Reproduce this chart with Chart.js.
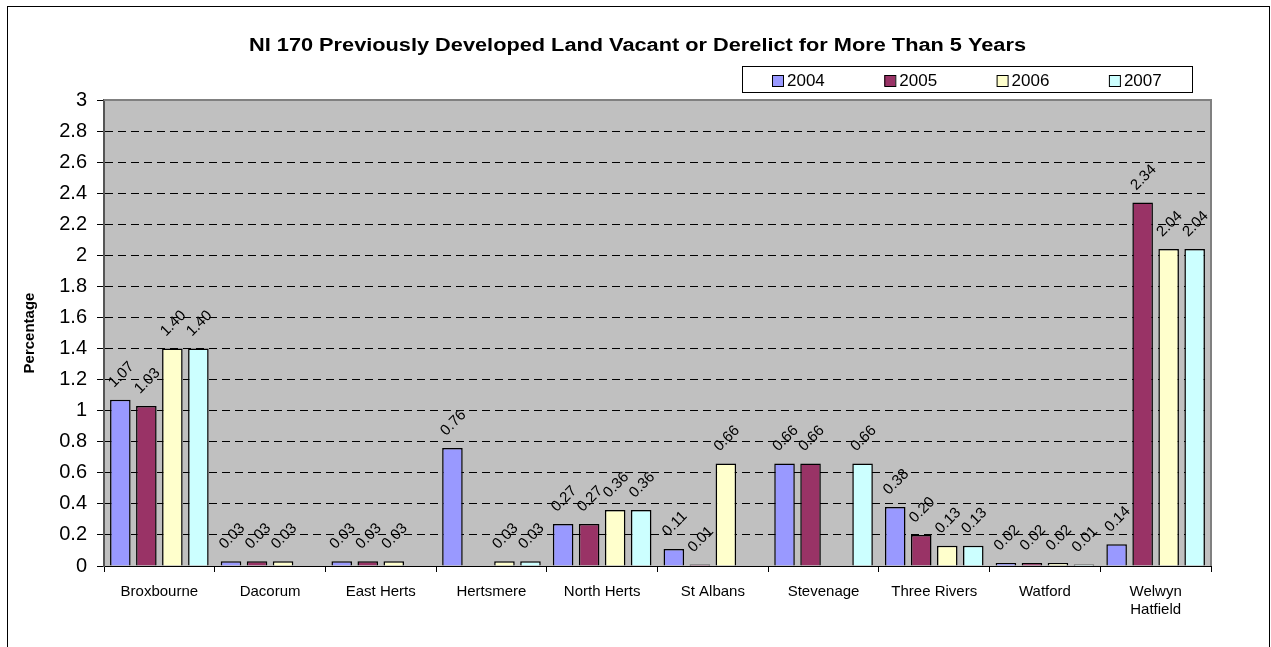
<!DOCTYPE html>
<html>
<head>
<meta charset="utf-8">
<script src="https://cdn.jsdelivr.net/npm/chart.js@4.4.0/dist/chart.umd.min.js"></script>
<style>
html,body{margin:0;padding:0;background:#fff;}
#wrap{width:1271px;height:647px;position:relative;}
</style>
</head>
<body>
<div id="wrap"><canvas id="c" width="1271" height="647"></canvas></div>
<script>
const titleText = 'NI 170 Previously Developed Land Vacant or Derelict for More Than 5 Years';
const yAxisTitle = 'Percentage';
const categories = ['Broxbourne','Dacorum','East Herts','Hertsmere','North Herts','St Albans','Stevenage','Three Rivers','Watford',['Welwyn','Hatfield']];
const seriesNames = ['2004','2005','2006','2007'];
const values2004 = [1.07,0.03,0.03,0.76,0.27,0.11,0.66,0.38,0.02,0.14];
const values2005 = [1.03,0.03,0.03,null,0.27,0.01,0.66,0.20,0.02,2.34];
const values2006 = [1.40,0.03,0.03,0.03,0.36,0.66,null,0.13,0.02,2.04];
const values2007 = [1.40,null,null,0.03,0.36,null,0.66,0.13,0.01,2.04];
const seriesColors = ['#9999FF','#993366','#FFFFCC','#CCFFFF'];
const yMin = 0, yMax = 3, yStep = 0.2;

const FONT = '"Liberation Sans", Arial, sans-serif';

const decorPlugin = {
  id: 'decor',
  beforeDraw(chart) {
    const {ctx, chartArea: a} = chart;
    ctx.save();
    ctx.fillStyle = '#fff';
    ctx.fillRect(0, 0, chart.width, chart.height);
    ctx.fillStyle = '#C0C0C0';
    ctx.fillRect(a.left, a.top, a.right - a.left, a.bottom - a.top);
    ctx.restore();
  },
  afterDatasetsDraw(chart) {
    const {ctx, chartArea: a} = chart;
    ctx.save();
    ctx.strokeStyle = '#808080';
    ctx.lineWidth = 2;
    ctx.beginPath();
    ctx.moveTo(a.left, a.top);
    ctx.lineTo(a.right, a.top);
    ctx.lineTo(a.right, a.bottom);
    ctx.stroke();
    ctx.fillStyle = '#000';
    ctx.font = '15px ' + FONT;
    ctx.textAlign = 'center';
    ctx.textBaseline = 'middle';
    chart.data.datasets.forEach((ds, di) => {
      const meta = chart.getDatasetMeta(di);
      meta.data.forEach((bar, i) => {
        const v = ds.data[i];
        if (v === null || v === undefined) return;
        ctx.save();
        ctx.translate(bar.x + 1, bar.y - 25);
        ctx.rotate(-Math.PI / 4);
        ctx.fillText(v.toFixed(2), 0, 0);
        ctx.restore();
      });
    });
    ctx.restore();
  },
  afterDraw(chart) {
    const {ctx, chartArea: a} = chart;
    ctx.save();
    ctx.strokeStyle = '#000';
    ctx.lineWidth = 1;
    ctx.strokeRect(7.5, 6.5, 1262, 700);
    ctx.fillStyle = '#000';
    ctx.font = 'bold 18px ' + FONT;
    ctx.textAlign = 'center';
    ctx.textBaseline = 'middle';
    const tw = ctx.measureText(titleText).width;
    ctx.save();
    ctx.translate(637.5, 46.5);
    ctx.scale(777 / tw, 1);
    ctx.fillText(titleText, 0, 0);
    ctx.restore();
    ctx.save();
    ctx.translate(30, (a.top + a.bottom) / 2);
    ctx.rotate(-Math.PI / 2);
    ctx.font = 'bold 15px ' + FONT;
    ctx.fillText(yAxisTitle, 0, 0);
    ctx.restore();
    const lx = 742, ly = 66, lw = 450, lh = 26;
    ctx.fillStyle = '#fff';
    ctx.fillRect(lx, ly, lw, lh);
    ctx.strokeStyle = '#000';
    ctx.lineWidth = 1;
    ctx.strokeRect(lx + 0.5, ly + 0.5, lw, lh);
    ctx.font = '17px ' + FONT;
    ctx.textAlign = 'left';
    ctx.textBaseline = 'middle';
    chart.data.datasets.forEach((ds, i) => {
      const x = 772 + i * 112.3;
      ctx.fillStyle = ds.backgroundColor;
      ctx.fillRect(x, 75, 11, 11);
      ctx.strokeStyle = '#000';
      ctx.strokeRect(x + 0.5, 75.5, 11, 11);
      ctx.fillStyle = '#000';
      ctx.fillText(ds.label, x + 15, 81);
    });
    ctx.restore();
  }
};

const datasets = [values2004, values2005, values2006, values2007].map((vals, i) => ({
  label: seriesNames[i],
  data: vals,
  backgroundColor: seriesColors[i],
  borderColor: '#000',
  borderWidth: 1.5,
  categoryPercentage: 0.94,
  barPercentage: 0.79
}));

new Chart(document.getElementById('c'), {
  type: 'bar',
  data: { labels: categories, datasets },
  options: {
    responsive: false,
    animation: false,
    layout: { padding: { left: 0, right: 60, top: 100, bottom: 0 } },
    plugins: { legend: { display: false }, title: { display: false }, tooltip: { enabled: false } },
    scales: {
      x: {
        offset: true,
        grid: { display: true, offset: true, drawOnChartArea: false, drawTicks: true, tickLength: 6, color: '#000', tickColor: '#000' },
        border: { display: true, color: '#000', width: 1 },
        ticks: { autoSkip: false, maxRotation: 0, minRotation: 0, padding: 10, color: '#000', font: { family: FONT, size: 15, lineHeight: 1.25 } },
        afterFit(scale) { scale.height = 81; }
      },
      y: {
        min: yMin, max: yMax,
        grid: {
          color: (c) => (c.tick && (Math.abs(c.tick.value) < 1e-9 || Math.abs(c.tick.value - yMax) < 1e-9)) ? 'rgba(0,0,0,0)' : '#000',
          tickColor: '#000',
          tickLength: 7,
          tickBorderDash: [],
          lineWidth: 1
        },
        border: { display: true, color: '#555', width: 2, dash: [8, 5] },
        ticks: {
          stepSize: yStep, padding: 10, color: '#000',
          font: { family: FONT, size: 20 },
          callback: (v) => String(parseFloat(Number(v).toFixed(1)))
        },
        afterFit(scale) { scale.width = 104; }
      }
    }
  },
  plugins: [decorPlugin]
});
</script>
</body>
</html>
